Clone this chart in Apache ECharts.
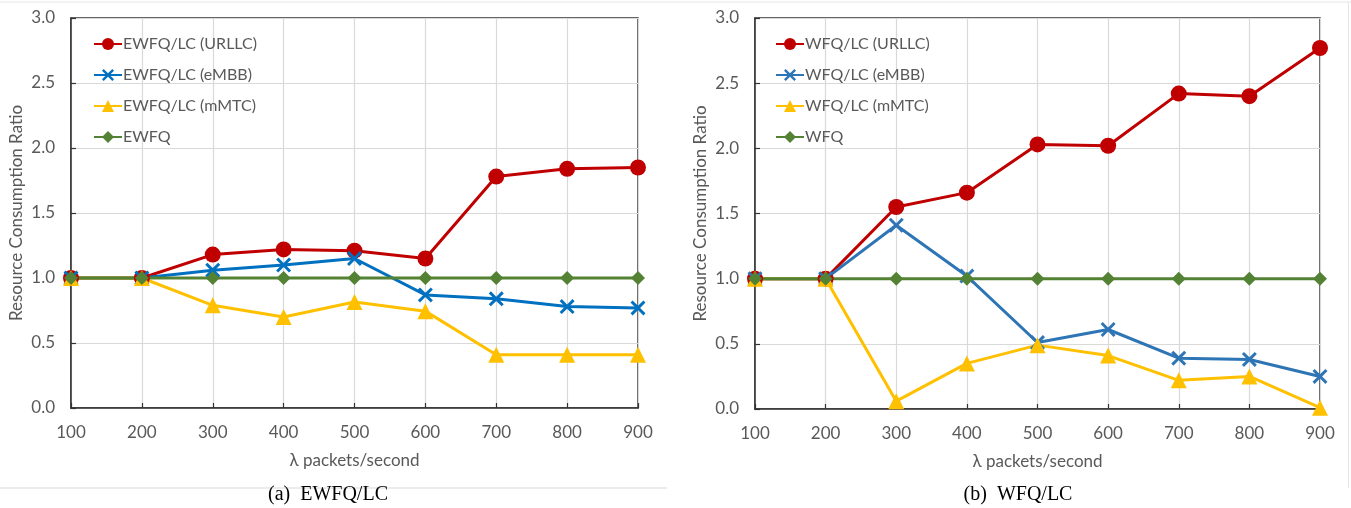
<!DOCTYPE html>
<html>
<head>
<meta charset="utf-8">
<script src="https://cdn.jsdelivr.net/npm/echarts@6/dist/echarts.min.js"></script>
<style>
html,body{margin:0;padding:0;background:#fff;}
#main{width:1351px;height:508px;}
</style>
</head>
<body>
<div id="main"></div>
<script>
// ---- data ----
const xValues = [100, 200, 300, 400, 500, 600, 700, 800, 900];
const yTicks = ['0.0', '0.5', '1.0', '1.5', '2.0', '2.5', '3.0'];

const leftNames = ['EWFQ/LC (URLLC)', 'EWFQ/LC (eMBB)', 'EWFQ/LC (mMTC)', 'EWFQ'];
const leftURLLC = [1.0, 1.0, 1.18, 1.22, 1.21, 1.15, 1.78, 1.84, 1.85];
const leftEMBB  = [1.0, 1.0, 1.06, 1.10, 1.15, 0.87, 0.84, 0.78, 0.77];
const leftMMTC  = [1.0, 1.0, 0.79, 0.70, 0.815, 0.745, 0.41, 0.41, 0.41];
const leftEWFQ  = [1.0, 1.0, 1.0, 1.0, 1.0, 1.0, 1.0, 1.0, 1.0];

const rightNames = ['WFQ/LC (URLLC)', 'WFQ/LC (eMBB)', 'WFQ/LC (mMTC)', 'WFQ'];
const rightURLLC = [1.0, 1.0, 1.55, 1.66, 2.03, 2.02, 2.42, 2.40, 2.77];
const rightEMBB  = [1.0, 1.0, 1.41, 1.02, 0.51, 0.61, 0.39, 0.38, 0.25];
const rightMMTC  = [1.0, 1.0, 0.06, 0.35, 0.49, 0.41, 0.22, 0.25, 0.01];
const rightWFQ   = [1.0, 1.0, 1.0, 1.0, 1.0, 1.0, 1.0, 1.0, 1.0];

const xTitle = 'λ packets/second';
const yTitle = 'Resource Consumption Ratio';
const captions = ['(a)  EWFQ/LC', '(b)  WFQ/LC'];

// ---- style ----
const FONT = 'Lato';
const TXT = '#595959';
const CROSS = 'path://M0,1.4L1.4,0L5,3.6L8.6,0L10,1.4L6.4,5L10,8.6L8.6,10L5,6.4L1.4,10L0,8.6L3.6,5Z';

function pts(arr) { return arr.map((v, i) => [xValues[i], v]); }

function mkSeries(name, data, idx, color, symbol, size) {
  return {
    name: name, type: 'line', xAxisIndex: idx, yAxisIndex: idx,
    data: pts(data), symbol: symbol, symbolSize: size, showSymbol: true,
    lineStyle: { color: color, width: 3 },
    itemStyle: { color: color },
    z: 3
  };
}

function xAxis(idx) {
  return {
    type: 'value', gridIndex: idx, min: 100, max: 900, interval: 100,
    name: xTitle, nameLocation: 'middle', nameGap: 44,
    nameTextStyle: { fontFamily: FONT, fontSize: 17, color: TXT },
    axisLine: { show: true, onZero: false, lineStyle: { color: '#333', width: 1.5 } },
    axisTick: { show: true, inside: true, length: 5, lineStyle: { color: '#333', width: 1.2 } },
    axisLabel: { fontFamily: FONT, fontSize: 17, color: TXT, margin: 16 },
    splitLine: { show: true, lineStyle: { color: '#D9D9D9', width: 1.2 } }
  };
}
function yAxis(idx) {
  return {
    type: 'value', gridIndex: idx, min: 0, max: 3, interval: 0.5,
    name: yTitle, nameLocation: 'middle', nameGap: 46, nameRotate: 90,
    nameTextStyle: { fontFamily: FONT, fontSize: 17, color: TXT },
    axisLine: { show: true, lineStyle: { color: '#333', width: 1.5 } },
    axisTick: { show: true, inside: true, length: 5, lineStyle: { color: '#333', width: 1.2 } },
    axisLabel: { fontFamily: FONT, fontSize: 17, color: TXT, margin: 16,
      formatter: function (v) { return yTicks[Math.round(v * 2)]; } },
    splitLine: { show: true, lineStyle: { color: '#D9D9D9', width: 1.2 } }
  };
}
function legend(names, left) {
  return {
    data: names, orient: 'vertical', left: left, top: 31,
    itemWidth: 28, itemHeight: 15, itemGap: 15,
    textStyle: { fontFamily: FONT, fontSize: 16, color: TXT, padding: [0, 0, 0, -4] },
    backgroundColor: 'rgba(255,255,255,0)'
  };
}

const chart = echarts.init(document.getElementById('main'), null, { renderer: 'canvas' });
chart.setOption({
  animation: false,
  backgroundColor: '#fff',
  grid: [
    { left: 71, top: 18, width: 567, height: 390, show: true, borderColor: '#333', borderWidth: 1.5, backgroundColor: 'transparent' },
    { left: 755, top: 18, width: 565, height: 391, show: true, borderColor: '#333', borderWidth: 1.5, backgroundColor: 'transparent' }
  ],
  xAxis: [xAxis(0), xAxis(1)],
  yAxis: [yAxis(0), yAxis(1)],
  legend: [legend(leftNames, 88), legend(rightNames, 770)],
  series: [
    mkSeries(leftNames[0], leftURLLC, 0, '#C00000', 'circle', 16),
    mkSeries(leftNames[1], leftEMBB, 0, '#0070C0', CROSS, 15),
    mkSeries(leftNames[2], leftMMTC, 0, '#FFC000', 'triangle', 16),
    mkSeries(leftNames[3], leftEWFQ, 0, '#548235', 'diamond', 14),
    mkSeries(rightNames[0], rightURLLC, 1, '#C00000', 'circle', 16),
    mkSeries(rightNames[1], rightEMBB, 1, '#2E75B6', CROSS, 15),
    mkSeries(rightNames[2], rightMMTC, 1, '#FFC000', 'triangle', 16),
    mkSeries(rightNames[3], rightWFQ, 1, '#548235', 'diamond', 14)
  ],
  graphic: [
    { type: 'line', shape: { x1: 0, y1: 2, x2: 1351, y2: 2 }, style: { stroke: '#E6E6E6', lineWidth: 1 } },
    { type: 'line', shape: { x1: 0, y1: 488, x2: 667, y2: 488 }, style: { stroke: '#D9D9D9', lineWidth: 1 } },
    { type: 'line', shape: { x1: 1348.5, y1: 2, x2: 1348.5, y2: 488 }, style: { stroke: '#E6E6E6', lineWidth: 1 } },
    { type: 'text', style: { text: captions[0], x: 328, y: 495, textAlign: 'center', textVerticalAlign: 'middle',
        font: '20px "Liberation Serif"', fill: '#000' } },
    { type: 'text', style: { text: captions[1], x: 1018, y: 495, textAlign: 'center', textVerticalAlign: 'middle',
        font: '20px "Liberation Serif"', fill: '#000' } }
  ]
});
</script>
</body>
</html>
